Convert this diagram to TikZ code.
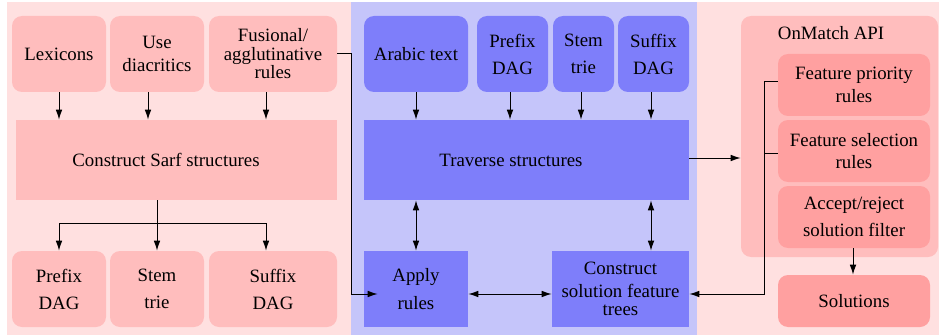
\documentclass[tikz,border=0pt]{standalone}
\usepackage{fontspec}
\setmainfont{Liberation Serif}
\usetikzlibrary{arrows.meta}

\definecolor{panelpink}{RGB}{255,224,224}
\definecolor{boxpink}{RGB}{255,189,189}
\definecolor{deeppink}{RGB}{255,160,160}
\definecolor{panelblue}{RGB}{197,197,250}
\definecolor{boxblue}{RGB}{126,126,250}

\tikzset{
  box/.style={inner sep=0pt, align=center, font=\fontsize{11.3}{13.5}\selectfont},
  sz/.style 2 args={minimum width=#1*0.6pt, minimum height=#2*0.6pt},
  pbox/.style={box, fill=boxpink, rounded corners=6pt},
  dbox/.style={box, fill=deeppink, rounded corners=6pt},
  bbox/.style={box, fill=boxblue, rounded corners=6pt},
  arr/.style={line width=0.6pt, -{Latex[length=6pt,width=4pt]}},
  dbl/.style={line width=0.6pt, {Latex[length=6pt,width=4pt]}-{Latex[length=6pt,width=4pt]}}
}

\begin{document}
\begin{tikzpicture}[x=0.6pt, y=-0.6pt]
    \useasboundingbox (0,0) rectangle (939,335);

    % Panels
    \fill[panelpink] (7,2) rectangle (351,335);
    \fill[panelblue] (351,2) rectangle (697,335);
    \fill[panelpink] (697,2) rectangle (939,335);

    % Sarf construction
    \node[pbox, sz={94}{76}] (lex) at (59,54) {Lexicons};
    \node[pbox, sz={94}{76}] (diac) at (157,54) {Use\\diacritics};
    \node[pbox, sz={128}{76}] (fus) at (273,54) {Fusional/\\[-2.4pt]agglutinative\\[-2.4pt]rules};
    \node[box, fill=boxpink, sz={321}{80}] (sarf) at (176.5,160) {Construct Sarf structures\hspace*{12.6pt}};
    \node[pbox, sz={94}{76}] (pdag) at (59,289) {Prefix\\[2.7pt]DAG};
    \node[pbox, sz={94}{76}] (stem) at (157,289) {Stem\\[2.7pt]trie};
    \node[pbox, sz={128}{76}] (sdag) at (273,289) {Suffix\\[2.7pt]DAG};

    \draw[arr] (lex) -- (lex |- sarf.north);
    \draw[arr] ([xshift=-5.4pt]diac.south) -- ([xshift=-5.4pt]diac.south |- sarf.north);
    \draw[arr] ([xshift=-4.2pt]fus.south) -- ([xshift=-4.2pt]fus.south |- sarf.north);

    \coordinate (split) at (157,223);
    \draw[arr] (stem |- sarf.south) -- (stem.north);
    \draw[arr] (split) -| (pdag.north);
    \draw[arr] (split) -| ([xshift=-4.2pt]sdag.north);

    % Analysis
    \node[bbox, sz={104}{76}] (arab) at (416,54) {Arabic text};
    \node[bbox, sz={71}{76}] (mpdag) at (512.5,54) {Prefix\\[2.7pt]DAG};
    \node[bbox, sz={61}{76}] (mstem) at (583.5,54) {Stem\\[2.7pt]trie};
    \node[bbox, sz={71}{76}] (msdag) at (653.5,54) {Suffix\\[2.7pt]DAG};
    \node[box, fill=boxblue, sz={325}{80}] (trav) at (526.5,160) {Traverse structures\hspace*{18.6pt}};
    \node[box, fill=boxblue, sz={104}{76}] (apply) at (416,289) {Apply\\[3pt]rules};
    \node[box, fill=boxblue, sz={137}{76}] (cons) at (620.5,289) {Construct\\solution feature\\[-2.5pt]trees};

    \draw[arr] (arab) -- (arab |- trav.north);
    \draw[arr] ([xshift=-1.5pt]mpdag.south) -- ([xshift=-1.5pt]mpdag.south |- trav.north);
    \draw[arr] ([xshift=-1.5pt]mstem.south) -- ([xshift=-1.5pt]mstem.south |- trav.north);
    \draw[arr] ([xshift=-1.5pt]msdag.south) -- ([xshift=-1.5pt]msdag.south |- trav.north);

    \draw[dbl] (trav.south -| apply) -- (apply.north);
    \draw[dbl] ([xshift=18.3pt]cons.north |- trav.south) -- ([xshift=18.3pt]cons.north);
    \draw[dbl] ([yshift=-3pt]apply.east) -- ([yshift=-3pt]cons.west);
    \draw[arr] (fus.east) -- ++(14,0) |- ([xshift=8.4pt,yshift=-3pt]apply.west);

    % OnMatch API
    \node[box, fill=boxpink, rounded corners=6pt, sz={197}{241}] (onm) at (839.5,136.5) {};
    \node[box] (onmlbl) at (831,33) {OnMatch API};
    \node[dbox, sz={152}{62}] (prio) at (854,85) {Feature priority\\rules};
    \node[dbox, sz={152}{62}] (sel) at (854,151) {Feature selection\\rules};
    \node[dbox, sz={152}{62}] (acc) at (854,217) {Accept/reject\\[3pt]solution filter};
    \node[dbox, sz={152}{52}] (sol) at (854,301) {Solutions};

    \draw[arr] ([yshift=1.2pt]trav.east) -- ([yshift=1.2pt]trav.east -| onm.west);
    \draw[arr] ([xshift=-0.6pt]acc.south) -- ([xshift=-0.6pt]sol.north);
    \draw[arr] ([yshift=1.8pt]prio.west) -- ++(-13,0) |- ([yshift=-3pt]cons.east);
    \draw[line width=0.6pt] ([yshift=-1.2pt]sel.west) -- ++(-13,0);
\end{tikzpicture}
\end{document}
